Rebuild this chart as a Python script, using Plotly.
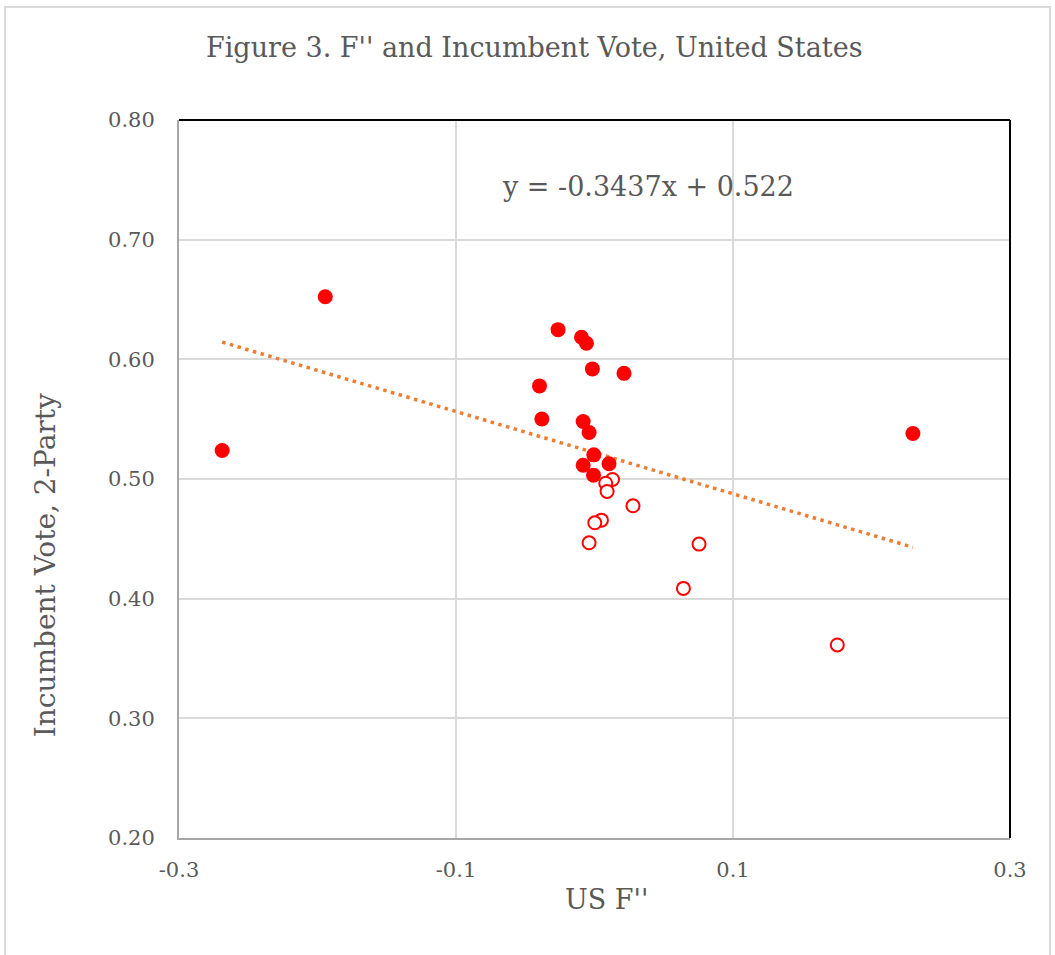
import plotly.graph_objects as go

# Data
filled_x = [-0.2688, -0.1944, -0.0263, -0.0094, -0.0058, -0.0015, 0.0213, -0.0397,
            -0.0380, -0.0082, -0.0039, -0.0005, -0.0082, 0.0105, -0.0007, 0.2299]
filled_y = [0.5238, 0.6523, 0.6248, 0.6184, 0.6134, 0.5920, 0.5883, 0.5778,
            0.5502, 0.5480, 0.5388, 0.5202, 0.5115, 0.5127, 0.5032, 0.5380]
open_x = [0.0130, 0.0081, 0.0091, 0.0278, 0.0050, 0.0002, -0.0039, 0.0755, 0.0642, 0.1753]
open_y = [0.4996, 0.4965, 0.4896, 0.4776, 0.4656, 0.4634, 0.4467, 0.4456, 0.4086, 0.3613]

slope = -0.3437
intercept = 0.522
x_ticks = [-0.3, -0.1, 0.1, 0.3]
x_tick_labels = ["-0.3", "-0.1", "0.1", "0.3"]
y_ticks = [0.2, 0.3, 0.4, 0.5, 0.6, 0.7, 0.8]
y_tick_labels = ["0.20", "0.30", "0.40", "0.50", "0.60", "0.70", "0.80"]

all_x = filled_x + open_x
tx = [min(all_x), max(all_x)]
ty = [slope * v + intercept for v in tx]

FONT = "DejaVu Serif"
GREY = "#595959"

fig = go.Figure()
fig.add_trace(go.Scatter(x=tx, y=ty, mode="lines",
                         line=dict(color="#ED7D31", width=3.5, dash="3.5px,4.5px"),
                         hoverinfo="skip", showlegend=False))
fig.add_trace(go.Scatter(x=filled_x, y=filled_y, mode="markers",
                         marker=dict(color="#FF0000", size=15, line=dict(width=0)),
                         showlegend=False))
fig.add_trace(go.Scatter(x=open_x, y=open_y, mode="markers",
                         marker=dict(symbol="circle", color="white", size=13,
                                     line=dict(color="#FF0000", width=2)),
                         showlegend=False))

fig.update_layout(
    width=1055, height=955,
    margin=dict(l=179, r=45, t=120, b=117),
    paper_bgcolor="white", plot_bgcolor="white",
    font=dict(family=FONT, color=GREY),
    showlegend=False,
    xaxis=dict(range=[-0.3, 0.3], tickvals=x_ticks, ticktext=x_tick_labels,
               showgrid=True, gridcolor="#D9D9D9", gridwidth=2,
               showline=True, linecolor="#A6A6A6", linewidth=2,
               zeroline=False, ticks="", tickfont=dict(size=21, color=GREY),
               ticklabelstandoff=12),
    yaxis=dict(range=[0.2, 0.8], tickvals=y_ticks, ticktext=y_tick_labels,
               showgrid=True, gridcolor="#D9D9D9", gridwidth=2,
               showline=True, linecolor="#A6A6A6", linewidth=2,
               zeroline=False, ticks="", tickfont=dict(size=21, color=GREY),
               ticklabelstandoff=18),
    annotations=[
        dict(text="Figure 3. F'' and Incumbent Vote, United States", xref="paper", yref="paper",
             x=0.428, y=1.101, xanchor="center", yanchor="middle", showarrow=False,
             font=dict(size=27, color=GREY, family=FONT)),
        dict(text="y = -0.3437x + 0.522", xref="paper", yref="paper",
             x=0.564, y=0.908, xanchor="center", yanchor="middle", showarrow=False,
             font=dict(size=27, color=GREY, family=FONT)),
        dict(text="US F''", xref="paper", yref="paper",
             x=0.515, y=-0.086, xanchor="center", yanchor="middle", showarrow=False,
             font=dict(size=27, color=GREY, family=FONT)),
        dict(text="Incumbent Vote, 2-Party", xref="paper", yref="paper",
             x=-0.161, y=0.38, xanchor="center", yanchor="middle", textangle=-90,
             showarrow=False, font=dict(size=28, color=GREY, family=FONT)),
    ],
    shapes=[
        dict(type="line", xref="paper", yref="paper", x0=0, x1=1, y0=1, y1=1,
             line=dict(color="black", width=2)),
        dict(type="line", xref="paper", yref="paper", x0=1, x1=1, y0=0, y1=1,
             line=dict(color="black", width=2)),
        dict(type="rect", xref="paper", yref="paper", x0=-0.2094, x1=1.0481,
             y0=-0.2, y1=1.1574, line=dict(color="#D9D9D9", width=2), layer="below"),
    ],
)

fig.write_html("out.html", config={"displayModeBar": False},
               post_script="document.body.style.margin='0';")
